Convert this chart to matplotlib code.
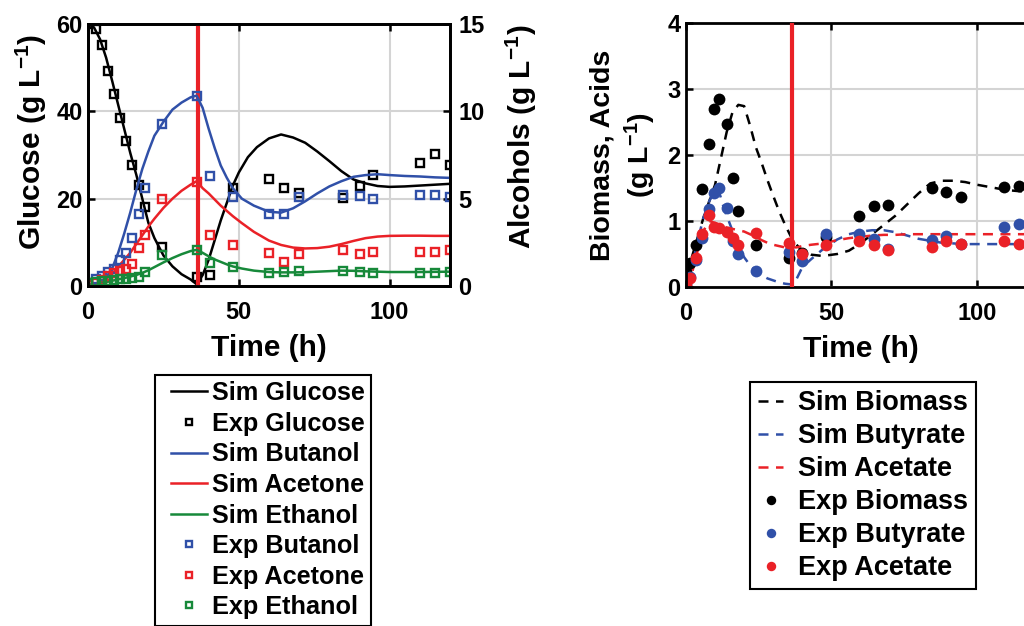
import matplotlib
matplotlib.use("Agg")
import matplotlib.pyplot as plt
from matplotlib.lines import Line2D
from matplotlib.legend_handler import HandlerLine2D

plt.rcParams["font.family"] = ["Liberation Sans", "DejaVu Sans"]
plt.rcParams["font.weight"] = "bold"
plt.rcParams["axes.labelweight"] = "bold"
plt.rcParams["mathtext.fontset"] = "custom"
plt.rcParams["mathtext.rm"] = "Liberation Sans:bold"
plt.rcParams["mathtext.default"] = "rm"

BLACK = "#000000"
BLUE = "#3050a8"
RED = "#ea2127"
GREEN = "#17893a"

# ---- left panel: glucose (left axis) and solvents (right axis) ----
t_sim_glc = [0, 2, 4, 6, 8, 10, 12, 14, 16, 18, 20, 22, 25, 28, 31, 34, 36,
             38, 40, 42, 44, 46, 48, 50, 53, 56, 60, 64, 68, 72, 76, 80, 84,
             88, 92, 96, 100, 105, 110, 115, 120]
sim_glucose = [60, 59.2, 56.5, 52.3, 47, 41.5, 36, 30.5, 25.5, 20, 14.5, 11,
               7, 4.5, 2.7, 1.5, 0.4, 2.5, 6, 10.5, 15, 19, 23, 26, 29.5,
               31.8, 33.8, 34.7, 34, 32.8, 30.8, 28.6, 26.3, 24.4, 23.5, 22.9,
               22.7, 22.8, 23.0, 23.2, 23.4]

t_sim_alc = [0, 4, 6, 8, 10, 12, 14, 16, 18, 20, 22, 25, 28, 31, 34, 36, 38,
             40, 42, 44, 46, 48, 51, 55, 60, 64, 68, 72, 76, 80, 84, 88, 92,
             96, 100, 105, 110, 115, 120]
sim_butanol = [0.05, 0.2, 0.5, 1.0, 1.9, 3.0, 4.2, 5.5, 6.7, 7.7, 8.6, 9.4,
               10.1, 10.5, 10.8, 10.9, 10.2, 9.0, 7.9, 6.9, 6.2, 5.6, 5.0,
               4.6, 4.25, 4.2, 4.45, 4.85, 5.3, 5.7, 6.0, 6.25, 6.35, 6.4,
               6.35, 6.3, 6.27, 6.22, 6.19]
sim_acetone = [0.05, 0.2, 0.4, 0.7, 1.1, 1.5, 1.9, 2.4, 2.9, 3.4, 3.85, 4.47,
               5.0, 5.45, 5.8, 6.0, 5.6, 5.3, 4.95, 4.6, 4.3, 4.0, 3.6, 3.1,
               2.6, 2.35, 2.2, 2.15, 2.17, 2.25, 2.4, 2.58, 2.74, 2.83, 2.87,
               2.88, 2.88, 2.87, 2.87]
sim_ethanol = [0.05, 0.15, 0.22, 0.3, 0.38, 0.45, 0.54, 0.63, 0.75, 0.9, 1.08,
               1.35, 1.6, 1.82, 2.0, 2.07, 1.9, 1.7, 1.52, 1.38, 1.24, 1.12,
               1.0, 0.88, 0.8, 0.78, 0.78, 0.79, 0.82, 0.85, 0.88, 0.87, 0.84,
               0.82, 0.8, 0.8, 0.8, 0.81, 0.82]

t_exp_L = [0, 2.5, 4.5, 6.5, 8.5, 10.5, 12.5, 14.5, 17, 19, 24.5, 36, 40.5,
           48, 60, 65, 70, 84.5, 90, 94.5, 110, 115, 120]
exp_glucose = [60, 58.9, 55.2, 49.3, 43.9, 38.5, 33.3, 27.7, 23.1, 18.0, 8.9,
               2.1, 2.5, 22.5, 24.4, 22.5, 21.4, 20.2, 22.8, 25.5, 28.2, 30.3,
               27.6]
exp_butanol = [0.15, 0.4, 0.6, 0.8, 1.0, 1.5, 1.9, 2.74, 4.1, 5.6, 9.3, 10.85,
               6.3, 5.07, 4.1, 4.1, 5.07, 5.2, 5.17, 5.0, 5.23, 5.19, 5.07]
exp_acetone = [0.05, 0.15, 0.35, 0.55, 0.75, 0.85, 0.95, 1.25, 2.17, 2.93,
               5.0, 5.94, 2.93, 2.32, 1.88, 1.36, 1.86, 2.07, 1.84, 1.94, 1.94,
               1.94, 2.07]
exp_ethanol = [0.19, 0.25, 0.29, 0.3, 0.34, 0.38, 0.4, 0.45, 0.53, 0.82, 1.78,
               2.07, 1.3, 1.07, 0.73, 0.79, 0.86, 0.86, 0.79, 0.76, 0.73, 0.73,
               0.79]

# ---- right panel: biomass and acids ----
t_sim_R = [0, 2, 4, 6, 8, 10, 11, 12, 13, 14, 16, 18, 20, 22, 24, 26, 28, 30,
           32, 34, 36, 37, 38, 40, 43, 47, 52, 56, 60, 64, 68, 72, 76, 80, 84,
           88, 92, 96, 100, 105, 110, 115, 120]
sim_biomass = [0.2, 0.45, 0.75, 1.05, 1.3, 1.55, 1.75, 1.95, 2.15, 2.35, 2.65,
               2.76, 2.74, 2.45, 2.12, 1.88, 1.62, 1.38, 1.15, 0.95, 0.77,
               0.7, 0.64, 0.55, 0.49, 0.47, 0.5, 0.55, 0.66, 0.8, 0.94, 1.08,
               1.25, 1.42, 1.57, 1.61, 1.61, 1.59, 1.55, 1.51, 1.47, 1.45, 1.44]
sim_butyrate = [0.0, 0.3, 0.7, 1.05, 1.3, 1.47, 1.5, 1.35, 1.2, 1.08, 0.85,
                0.62, 0.45, 0.33, 0.25, 0.18, 0.13, 0.1, 0.07, 0.05, 0.04,
                0.04, 0.12, 0.3, 0.42, 0.57, 0.72, 0.8, 0.84, 0.86, 0.86, 0.83,
                0.78, 0.73, 0.7, 0.67, 0.66, 0.65, 0.65, 0.65, 0.65, 0.65, 0.65]
sim_acetate = [0.0, 0.2, 0.55, 0.85, 1.0, 0.97, 0.95, 0.93, 0.92, 0.9, 0.88,
               0.86, 0.84, 0.8, 0.76, 0.71, 0.67, 0.64, 0.62, 0.6, 0.6, 0.6,
               0.6, 0.62, 0.64, 0.66, 0.71, 0.74, 0.76, 0.78, 0.79, 0.79, 0.8,
               0.8, 0.8, 0.8, 0.8, 0.8, 0.8, 0.8, 0.8, 0.8, 0.8]

t_exp_R = [0, 1.5, 3.5, 5.5, 8, 9.5, 11.5, 14, 16, 18, 24, 35.5, 40, 48, 59.5,
           64.5, 69.5, 84.5, 89.5, 94.5, 109.5, 114.5]
exp_biomass = [0.23, 0.36, 0.64, 1.48, 2.16, 2.69, 2.85, 2.47, 1.65, 1.15,
               0.64, 0.44, 0.51, 0.76, 1.07, 1.23, 1.24, 1.5, 1.44, 1.36, 1.51,
               1.53]
exp_butyrate = [0.05, 0.15, 0.41, 0.74, 1.18, 1.42, 1.5, 1.19, 0.69, 0.5, 0.25,
                0.53, 0.4, 0.81, 0.81, 0.73, 0.58, 0.71, 0.78, 0.65, 0.91, 0.95]
exp_acetate = [0.03, 0.13, 0.44, 0.8, 1.09, 0.91, 0.89, 0.84, 0.74, 0.64, 0.82,
               0.66, 0.5, 0.64, 0.7, 0.64, 0.56, 0.6, 0.7, 0.65, 0.7, 0.65]

t_switch = 36.5

fig = plt.figure(figsize=(10.24, 6.26), dpi=100)
axL = fig.add_axes([88 / 1024, 1 - 286 / 626, 362 / 1024, 262 / 626])
axR = fig.add_axes([686 / 1024, 1 - 287 / 626, 349 / 1024, 264 / 626])
axA = axL.twinx()

lw = 1.8
sq = dict(marker="s", ls="none", ms=6.2, mfc="none", mew=1.7)
dot = dict(marker="o", ls="none", ms=8.5, mec="none")

def style_axes(ax):
    for s in ax.spines.values():
        s.set_linewidth(2)
    ax.tick_params(direction="in", length=5, width=1.8, labelsize=17, pad=4)
    ax.tick_params(axis="x", pad=11)
    ax.set_xlim(0, 120)
    ax.set_xticks([0, 50, 100])
    ax.grid(True, color="#d4d4d4", lw=1.5)
    ax.set_axisbelow(True)
    ax.set_xlabel("Time (h)", fontsize=21.5, labelpad=7)

# left panel
style_axes(axL)
axL.tick_params(top=True)
axL.set_ylim(0, 60)
axL.set_yticks([0, 20, 40, 60])
axA.set_ylim(0, 15)
axA.set_yticks([0, 5, 10, 15])
axA.tick_params(direction="in", length=5, width=1.8, labelsize=17, pad=6)
for s in axA.spines.values():
    s.set_linewidth(2)

h_sglc, = axL.plot(t_sim_glc, sim_glucose, color=BLACK, lw=lw, zorder=3)
h_eglc, = axL.plot(t_exp_L, exp_glucose, color=BLACK, zorder=4, **sq)
axL.axvline(t_switch, color=RED, lw=3, zorder=5)

h_sbut, = axA.plot(t_sim_alc, sim_butanol, color=BLUE, lw=lw)
h_sace, = axA.plot(t_sim_alc, sim_acetone, color=RED, lw=lw)
h_seth, = axA.plot(t_sim_alc, sim_ethanol, color=GREEN, lw=lw)
h_ebut, = axA.plot(t_exp_L, exp_butanol, color=BLUE, **sq)
h_eace, = axA.plot(t_exp_L, exp_acetone, color=RED, **sq)
h_eeth, = axA.plot(t_exp_L, exp_ethanol, color=GREEN, **sq)

axL.set_ylabel("Glucose (g L$^{-1}$)", fontsize=21.5)
axL.yaxis.label.set_va("center")
axL.yaxis.set_label_coords(-0.155, 0.55)
axA.set_ylabel("Alcohols (g L$^{-1}$)", fontsize=21.5)
axA.yaxis.label.set_va("center")
axA.yaxis.set_label_coords(1.196, 0.57)

# right panel
style_axes(axR)
axR.tick_params(top=True, right=True)
axR.set_ylim(0, 4)
axR.set_yticks([0, 1, 2, 3, 4])
dash = (4, 3)
h_sbio, = axR.plot(t_sim_R, sim_biomass, color=BLACK, lw=lw, dashes=dash)
h_sbty, = axR.plot(t_sim_R, sim_butyrate, color=BLUE, lw=lw, dashes=dash)
h_sact, = axR.plot(t_sim_R, sim_acetate, color=RED, lw=lw, dashes=dash)
h_ebio, = axR.plot(t_exp_R, exp_biomass, mfc=BLACK, **dot)
h_ebty, = axR.plot(t_exp_R, exp_butyrate, mfc=BLUE, **dot)
h_eact, = axR.plot(t_exp_R, exp_acetate, mfc=RED, **dot)
axR.axvline(t_switch, color=RED, lw=3, zorder=5)
axR.set_ylabel("Biomass, Acids\n(g L$^{-1}$)", fontsize=20.5, linespacing=1.3)
axR.yaxis.label.set_va("center")
axR.yaxis.set_label_coords(-0.178, 0.5)

leg_kw = dict(loc="upper left", frameon=True, fancybox=False,
              edgecolor="black", framealpha=1, borderaxespad=0,
              labelspacing=0.26, markerscale=0.8)

legL = fig.legend(
    [h_sglc, h_eglc, h_sbut, h_sace, h_seth, h_ebut, h_eace, h_eeth],
    ["Sim Glucose", "Exp Glucose", "Sim Butanol", "Sim Acetone",
     "Sim Ethanol", "Exp Butanol", "Exp Acetone", "Exp Ethanol"],
    bbox_to_anchor=(155 / 1024, 1 - 375 / 626), fontsize=18.2,
    handlelength=1.8, handletextpad=0.2, borderpad=0.25,
    handler_map={Line2D: HandlerLine2D(xpad=0.4)}, **leg_kw)
legL.get_frame().set_linewidth(1.5)

legR = fig.legend(
    [h_sbio, h_sbty, h_sact, h_ebio, h_ebty, h_eact],
    ["Sim Biomass", "Sim Butyrate", "Sim Acetate", "Exp Biomass",
     "Exp Butyrate", "Exp Acetate"],
    bbox_to_anchor=(750 / 1024, 1 - 382 / 626), fontsize=19.5,
    handlelength=0.93, handletextpad=0.55, borderpad=0.3, **leg_kw)
legR.get_frame().set_linewidth(1.5)

fig.savefig("out.png", dpi=100)
